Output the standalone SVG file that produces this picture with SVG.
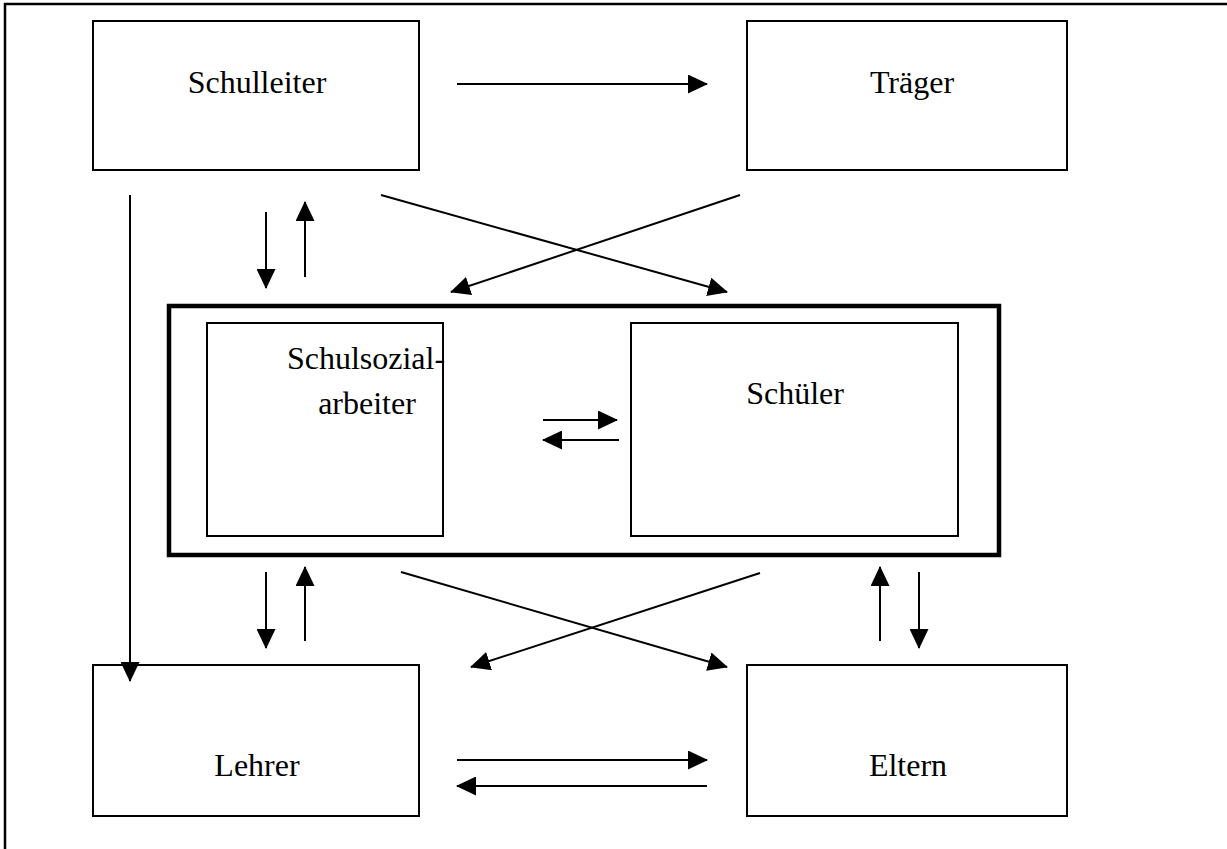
<svg xmlns="http://www.w3.org/2000/svg" width="1227" height="849" viewBox="0 0 1227 849">
<style>
.box{fill:#fff;stroke:#000;stroke-width:2}
.frame{fill:none;stroke:#000;stroke-width:2.5}
.thick{fill:none;stroke:#000;stroke-width:4.5}
.lbl{font-family:"Liberation Serif","Times New Roman",serif;font-size:32px;fill:#000;text-anchor:middle}
.c{stroke:#000;stroke-width:2;fill:none;marker-end:url(#ah)}
</style>
<defs>
<marker id="ah" viewBox="0 0 20 19" refX="19" refY="9.5" markerWidth="20" markerHeight="19" markerUnits="userSpaceOnUse" orient="auto">
<path d="M0,0 L20,9.5 L0,19 Z" fill="#000"/>
</marker>
</defs>
<rect width="1227" height="849" fill="#fff"/>
<path class="frame" d="M5,849 V4 H1227"/>
<g id="schulleiter"><rect class="box" x="93" y="21" width="326" height="149"/><text class="lbl" x="257" y="93">Schulleiter</text></g>
<g id="traeger"><rect class="box" x="747" y="21" width="320" height="149"/><text class="lbl" x="912" y="93">Träger</text></g>
<g id="gruppe"><rect class="thick" x="169" y="306" width="830" height="249"/></g>
<g id="schulsozialarbeiter"><rect class="box" x="207" y="323" width="236" height="213"/><text class="lbl" x="366" y="369">Schulsozial-</text><text class="lbl" x="367" y="414">arbeiter</text></g>
<g id="schueler"><rect class="box" x="631" y="323" width="327" height="213"/><text class="lbl" x="795" y="404">Schüler</text></g>
<g id="lehrer"><rect class="box" x="93" y="665" width="326" height="151"/><text class="lbl" x="257" y="776">Lehrer</text></g>
<g id="eltern"><rect class="box" x="747" y="665" width="320" height="151"/><text class="lbl" x="908" y="776">Eltern</text></g>
<g id="connectors">
<line class="c" x1="457" y1="84" x2="707" y2="84"/>
<line class="c" x1="130" y1="195" x2="130" y2="681"/>
<line class="c" x1="266" y1="212" x2="266" y2="288"/>
<line class="c" x1="305" y1="277" x2="305" y2="202"/>
<line class="c" x1="381" y1="195" x2="727" y2="292"/>
<line class="c" x1="740" y1="195" x2="451" y2="292"/>
<line class="c" x1="543" y1="420" x2="617" y2="420"/>
<line class="c" x1="619" y1="440" x2="543" y2="440"/>
<line class="c" x1="266" y1="572" x2="266" y2="648"/>
<line class="c" x1="305" y1="641" x2="305" y2="567"/>
<line class="c" x1="401" y1="572" x2="727" y2="667"/>
<line class="c" x1="760" y1="573" x2="471" y2="667"/>
<line class="c" x1="880" y1="641" x2="880" y2="567"/>
<line class="c" x1="919" y1="572" x2="919" y2="648"/>
<line class="c" x1="457" y1="760" x2="707" y2="760"/>
<line class="c" x1="707" y1="786" x2="457" y2="786"/>
</g>
</svg>
